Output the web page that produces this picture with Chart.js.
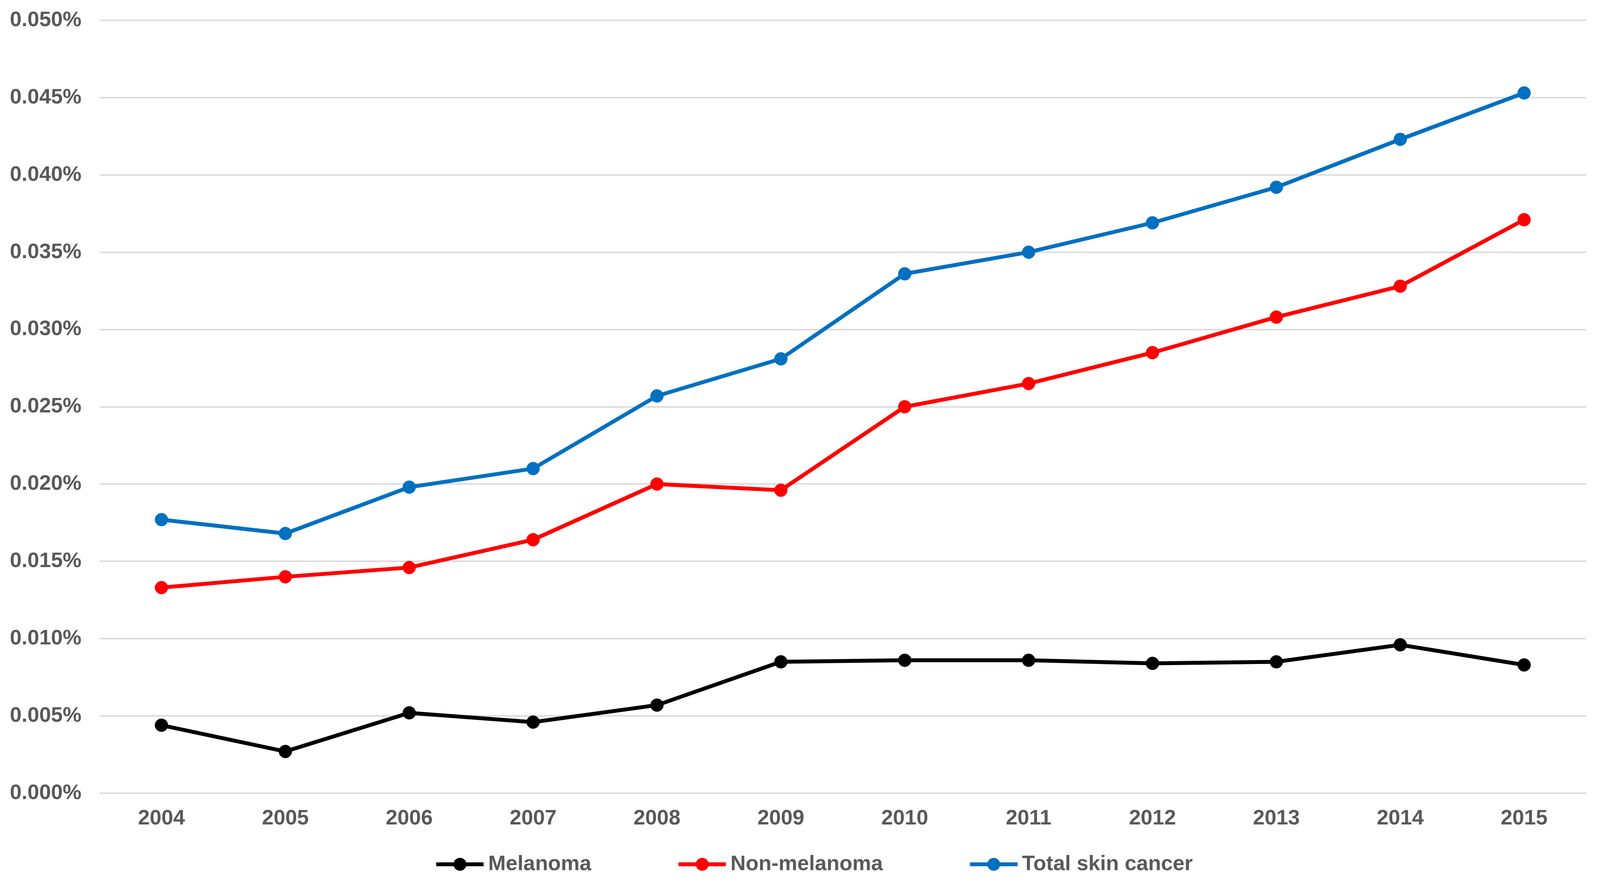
<!DOCTYPE html>
<html>
<head>
<meta charset="utf-8">
<script src="https://cdn.jsdelivr.net/npm/chart.js@4.4.1/dist/chart.umd.min.js"></script>
<style>
  html, body { margin: 0; padding: 0; background: #ffffff; overflow: hidden; }
  canvas { display: block; }
</style>
</head>
<body>
<canvas id="c"></canvas>
<script>
const years = ['2004','2005','2006','2007','2008','2009','2010','2011','2012','2013','2014','2015'];
const melanoma = [0.0044,0.0027,0.0052,0.0046,0.0057,0.0085,0.0086,0.0086,0.0084,0.0085,0.0096,0.0083];
const nonMelanoma = [0.0133,0.0140,0.0146,0.0164,0.0200,0.0196,0.0250,0.0265,0.0285,0.0308,0.0328,0.0371];
const totalSkin = [0.0177,0.0168,0.0198,0.0210,0.0257,0.0281,0.0336,0.0350,0.0369,0.0392,0.0423,0.0453];
const seriesNames = ['Melanoma','Non-melanoma','Total skin cancer'];
const seriesColors = ['#000000','#ff0000','#0070c0'];

const W = window.innerWidth || 4244;
const H = window.innerHeight || 2266;
const kx = W / 4244;

const FONT = "'Liberation Sans', Arial, sans-serif";
const TEXT = '#595959';
const FS = 54;
const LEG_PAD = 10;
const LEG_LINE = 126 * kx;
const LEG_GAP = 12 * kx;
const LEG_BOX = 231 * kx - LEG_PAD - FS / 2 + LEG_GAP + LEG_LINE;
const LEG_IMG = LEG_BOX + FS - 2 * LEG_GAP;
const LEG_LINE_START = 1157 * kx;

function legendIcon(color) {
  const w = Math.round(LEG_IMG), h = 40;
  const c = document.createElement('canvas');
  c.width = w; c.height = h;
  const g = c.getContext('2d');
  g.strokeStyle = color;
  g.lineWidth = 10;
  g.beginPath();
  g.moveTo(w - LEG_LINE, h / 2);
  g.lineTo(w, h / 2);
  g.stroke();
  g.fillStyle = color;
  g.beginPath();
  g.arc(w - LEG_LINE / 2, h / 2, 16.5, 0, Math.PI * 2);
  g.fill();
  return c;
}
const icons = seriesColors.map(legendIcon);

const allSeries = [melanoma, nonMelanoma, totalSkin];
const datasets = allSeries.map((d, i) => ({
  label: seriesNames[i],
  data: d,
  borderColor: seriesColors[i],
  backgroundColor: seriesColors[i],
  pointBackgroundColor: seriesColors[i],
  pointBorderColor: seriesColors[i],
  borderWidth: 10,
  pointRadius: 16.5,
  pointBorderWidth: 1,
  pointHoverRadius: 16.5,
  tension: 0,
  fill: false
}));

const legendShift = {
  id: 'legendShift',
  afterLayout(chart) {
    const lg = chart.legend;
    if (!lg || !lg.lineWidths) return;
    const cx = (lg.left + LEG_PAD + lg.right - lg.lineWidths[0]) / 2;
    const first = cx + LEG_BOX + FS / 2 - LEG_GAP - LEG_LINE;
    const dx = LEG_LINE_START - first;
    lg.left += dx;
    lg.right += dx;
  }
};

const cv = document.getElementById('c');
cv.width = W; cv.height = H;
cv.style.width = W + 'px'; cv.style.height = H + 'px';

new Chart(cv, {
  type: 'line',
  data: { labels: years, datasets: datasets },
  plugins: [legendShift],
  options: {
    responsive: false,
    devicePixelRatio: 1,
    animation: false,
    events: [],
    layout: { padding: { left: 0, right: 37 * kx, top: 52, bottom: 16 } },
    scales: {
      x: {
        offset: true,
        grid: { display: false, drawTicks: false },
        border: { display: false },
        ticks: {
          color: TEXT,
          font: { family: FONT, size: FS, weight: 'bold' },
          padding: 33,
          maxRotation: 0,
          autoSkip: false
        },
        afterFit: (s) => { s.height = 145; }
      },
      y: {
        min: 0,
        max: 0.05,
        grid: {
          color: '#dcdcdc',
          lineWidth: 4,
          drawTicks: true,
          tickLength: 48 * kx,
          tickColor: 'rgba(0,0,0,0)'
        },
        border: { display: false },
        ticks: {
          stepSize: 0.005,
          color: TEXT,
          font: { family: FONT, size: FS, weight: 'bold' },
          padding: 0,
          callback: (v) => Number(v).toFixed(3) + '%'
        },
        afterFit: (s) => { s.width = 264 * kx; }
      }
    },
    plugins: {
      tooltip: { enabled: false },
      legend: {
        position: 'bottom',
        labels: {
          usePointStyle: true,
          pointStyleWidth: LEG_BOX,
          padding: LEG_PAD,
          color: TEXT,
          font: { family: FONT, size: FS, weight: 'bold' },
          generateLabels: (c) => {
            const items = Chart.defaults.plugins.legend.labels.generateLabels(c);
            items.forEach((it) => { it.pointStyle = icons[it.datasetIndex]; it.fontColor = TEXT; });
            return items;
          }
        }
      }
    }
  }
});
</script>
</body>
</html>
